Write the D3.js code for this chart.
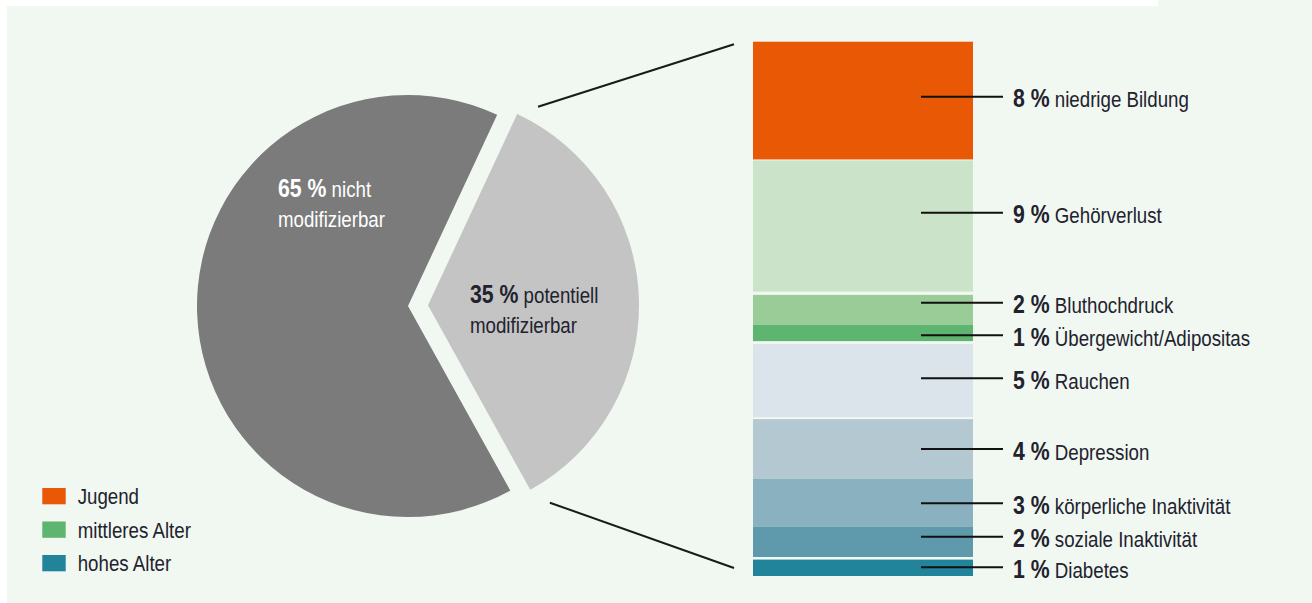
<!DOCTYPE html>
<html><head><meta charset="utf-8">
<script src="https://cdn.jsdelivr.net/npm/d3@7"></script>
<style>html,body{margin:0;padding:0;background:#fff;} svg{display:block;}</style>
</head><body><div id="chart"></div>
<script>
// ---- data ----
const pieCategories = ["potentiell modifizierbar", "nicht modifizierbar"];
const pieValues = [35, 65];
const pieColors = ["#c4c4c4", "#7b7b7b"];

const barCategories = ["niedrige Bildung", "Gehörverlust", "Bluthochdruck", "Übergewicht/Adipositas",
  "Rauchen", "Depression", "körperliche Inaktivität", "soziale Inaktivität", "Diabetes"];
const barLabelValues = [8, 9, 2, 1, 5, 4, 3, 2, 1];
const barShares = [7.9, 8.8, 2.0, 1.1, 4.9, 4.0, 3.2, 2.05, 1.1];
const barColors = ["#e95805", "#cbe3c9", "#9acc98", "#5db56f", "#dbe4ea", "#b3c8d1", "#8ab1bf", "#5e9aab", "#21849a"];

const legendLabels = ["Jugend", "mittleres Alter", "hohes Alter"];
const legendColors = ["#e95805", "#5db56f", "#21849a"];

// ---- layout ----
const W = 1312, H = 603;
const FONT = "'Liberation Sans', Arial, sans-serif";
const SX = 0.85;
const TXT = "#22222e";

const svg = d3.select("#chart").append("svg").attr("width", W).attr("height", H);
svg.append("rect").attr("x", 7).attr("y", 6).attr("width", W - 7).attr("height", H - 6).attr("fill", "#f1f7f1");
svg.append("rect").attr("x", 1158).attr("y", 0).attr("width", W - 1158).attr("height", 8).attr("fill", "#f1f7f1");

function condText(x, y) {
  return svg.append("text")
    .attr("transform", `translate(${x},${y}) scale(${SX},1)`)
    .style("font-family", FONT);
}

// ---- pie ----
const R = 211, cx = 408, cy = 306, explode = 20;
const pie = d3.pie().sort(null).value(d => d)
  .startAngle(25 * Math.PI / 180).endAngle(385 * Math.PI / 180);
const arcs = pie(pieValues);
const arc = d3.arc().innerRadius(0).outerRadius(R);
arcs.forEach((a, i) => {
  const mid = (a.startAngle + a.endAngle) / 2;
  const off = i === 0 ? explode : 0;
  a.cx = cx + off * Math.sin(mid);
  a.cy = cy - off * Math.cos(mid);
});
svg.selectAll("path.slice").data(arcs).join("path")
  .attr("class", "slice")
  .attr("transform", d => `translate(${d.cx},${d.cy})`)
  .attr("d", arc)
  .attr("fill", (d, i) => pieColors[i]);

// pie labels
const pieLabelPos = [{dx: 42, dy: -2, color: TXT}, {dx: -130, dy: -109, color: "#ffffff"}];
arcs.forEach((a, i) => {
  const p = pieLabelPos[i];
  const words = pieCategories[i].split(" ");
  const t1 = condText(a.cx + p.dx, a.cy + p.dy).attr("fill", p.color);
  t1.append("tspan").style("font-weight", "bold").style("font-size", "25px").text(pieValues[i] + " %");
  t1.append("tspan").style("font-size", "22px").text(" " + words[0]);
  condText(a.cx + p.dx, a.cy + p.dy + 30).attr("fill", p.color)
    .style("font-size", "22px").text(words.slice(1).join(" "));
});

// ---- stacked bar ----
const barX = 753, barW = 220, barTop = 41.7, barBottom = 576;
const gapsAfter = [1, 3.3, 0, 3, 2, 0, 0, 2.6, 0];
const totalGap = d3.sum(gapsAfter);
const h = d3.scaleLinear().domain([0, d3.sum(barShares)]).range([0, barBottom - barTop - totalGap]);
let acc = barTop;
const segs = barShares.map((v, i) => {
  const s = {y0: acc, y1: acc + h(v), i};
  acc = s.y1 + gapsAfter[i];
  return s;
});
svg.selectAll("rect.seg").data(segs).join("rect")
  .attr("class", "seg")
  .attr("x", barX).attr("width", barW)
  .attr("y", d => d.y0).attr("height", d => d.y1 - d.y0)
  .attr("fill", d => barColors[d.i]);

// label leaders
const labelNudge = [-3.9, -13.3, -7.1, 2.4, -2.3, 0.1, 0.75, -5, -0.5];
segs.forEach((s, i) => {
  const ly = (s.y0 + s.y1) / 2 + labelNudge[i];
  svg.append("line").attr("x1", barX + 168).attr("x2", barX + 250)
    .attr("y1", ly).attr("y2", ly).attr("stroke", "#111").attr("stroke-width", 2);
  const t = condText(barX + 260, ly + 10.5).attr("fill", TXT);
  t.append("tspan").style("font-weight", "bold").style("font-size", "25px").text(barLabelValues[i] + " %");
  t.append("tspan").style("font-size", "22px").text(" " + barCategories[i]);
});

// pie-to-bar leader lines
const lc = arcs[0];
const deg = Math.PI / 180;
const leaders = [
  {a: 29 * deg, r: R + 16, x2: barX - 19, y2: barTop + 2.5},
  {a: 148.3 * deg, r: R + 21, x2: barX - 19, y2: barBottom - 8}
];
leaders.forEach(l => {
  svg.append("line")
    .attr("x1", lc.cx + l.r * Math.sin(l.a)).attr("y1", lc.cy - l.r * Math.cos(l.a))
    .attr("x2", l.x2).attr("y2", l.y2)
    .attr("stroke", "#1a1a1a").attr("stroke-width", 2);
});

// ---- legend ----
legendLabels.forEach((lab, i) => {
  const y = 488 + i * 33.5;
  svg.append("rect").attr("x", 42.3).attr("y", y).attr("width", 23.4).attr("height", 16.3)
    .attr("fill", legendColors[i]);
  condText(77.7, y + 16.3).attr("fill", TXT).style("font-size", "22px").text(lab);
});
</script>
</body></html>
